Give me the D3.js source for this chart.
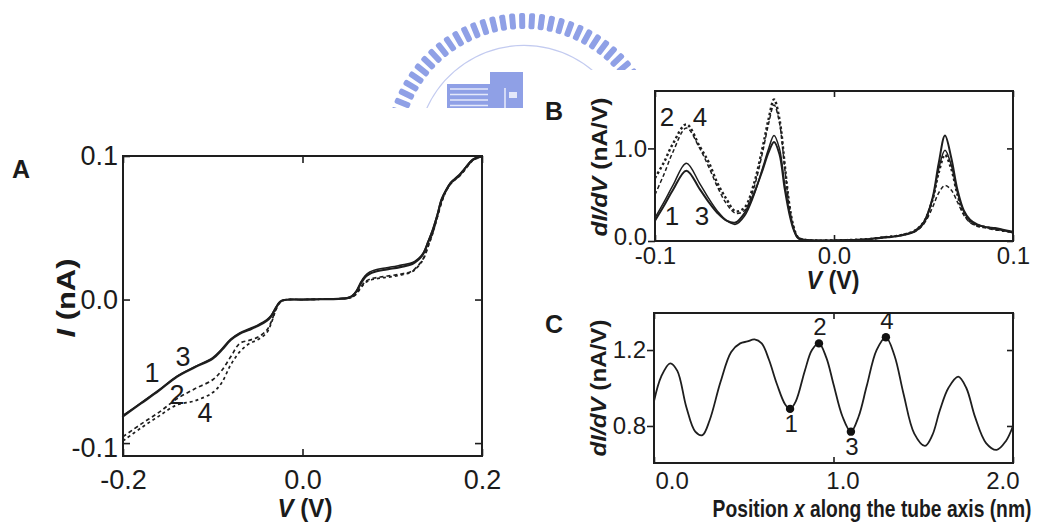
<!DOCTYPE html>
<html>
<head>
<meta charset="utf-8">
<script src="https://cdn.jsdelivr.net/npm/d3@7"></script>
<style>
  html, body { margin: 0; padding: 0; background: #fff; }
  svg { display: block; }
  text { font-family: "Liberation Sans", Arial, sans-serif; fill: #1b1b1b; }
  .bold { font-weight: bold; }
</style>
</head>
<body>
<svg id="fig" width="1046" height="526"></svg>
<script>
// ---------- Panel A: I(V) curves at four tip positions ----------
const ivVoltage = [-0.2,-0.18,-0.16,-0.14,-0.12,-0.1,-0.09,-0.08,-0.07,-0.06,-0.05,-0.04,-0.035,-0.03,-0.025,-0.02,
  0,0.02,0.04,0.05,0.055,0.06,0.065,0.07,0.075,0.08,0.09,0.1,0.11,0.12,0.125,0.13,0.135,0.14,0.145,0.15,0.155,0.16,
  0.165,0.17,0.175,0.18,0.19,0.2];
const ivCurve1 = [-0.0813,-0.0724,-0.0635,-0.0538,-0.0472,-0.0412,-0.0352,-0.0282,-0.0238,-0.0212,-0.0185,-0.0148,-0.0118,-0.0062,-0.0016,-0.0003,
  0,0.0002,0.0005,0.001,0.0022,0.0055,0.0112,0.0158,0.018,0.0192,0.0206,0.0216,0.0228,0.0242,0.0258,0.0282,0.0322,0.040,0.048,0.058,0.0697,0.076,
  0.081,0.0838,0.0865,0.0905,0.0975,0.1];
const ivCurve3 = [-0.0808,-0.0720,-0.0630,-0.0535,-0.0468,-0.0405,-0.0345,-0.0276,-0.0232,-0.0205,-0.0178,-0.0142,-0.0112,-0.0058,-0.0014,-0.0002,
  0,0.0002,0.0006,0.0012,0.0025,0.006,0.0122,0.0168,0.0192,0.0204,0.0218,0.0228,0.024,0.0252,0.0266,0.029,0.033,0.0405,0.0486,0.0588,0.0700,0.0765,
  0.0815,0.0845,0.0872,0.0908,0.0978,0.1];
const ivCurve2 = [-0.0955,-0.0868,-0.0786,-0.0692,-0.0622,-0.0559,-0.0494,-0.0399,-0.0306,-0.0285,-0.0263,-0.0215,-0.0158,-0.0074,-0.0018,-0.0003,
  0,0.0002,0.0005,0.0009,0.0018,0.0042,0.0088,0.0125,0.0142,0.015,0.016,0.0168,0.0178,0.0192,0.0212,0.0245,0.029,0.0375,0.0462,0.0572,0.068,0.0758,
  0.0808,0.0838,0.0864,0.0898,0.0972,0.0995];
const ivCurve4 = [-0.0985,-0.0895,-0.0812,-0.0734,-0.0706,-0.0648,-0.0579,-0.0455,-0.0365,-0.031,-0.028,-0.0232,-0.0168,-0.0078,-0.002,-0.0003,
  0,0.0002,0.0005,0.0008,0.0016,0.0038,0.0082,0.0118,0.0134,0.0142,0.0152,0.016,0.0172,0.0188,0.0206,0.024,0.0285,0.037,0.0458,0.0568,0.0676,0.0755,
  0.0805,0.0835,0.0862,0.0896,0.097,0.0995];
const ivXTicks = [-0.2, 0.0, 0.2];
const ivXTickLabels = ["-0.2", "0.0", "0.2"];
const ivYTicks = [-0.1, 0.0, 0.1];
const ivYTickLabels = ["-0.1", "0.0", "0.1"];
const ivCurveNames = ["1", "3", "2", "4"];

// ---------- Panel B: dI/dV spectra ----------
const bVoltage = [-0.1,-0.095,-0.09,-0.0825,-0.075,-0.07,-0.065,-0.06,-0.055,-0.05,-0.045,-0.04,-0.0365,-0.0335,-0.0305,-0.0275,
  -0.025,-0.0225,-0.02,-0.015,-0.01,0,0.01,0.02,0.03,0.035,0.04,0.045,0.05,0.055,0.0585,0.062,0.0655,0.069,0.0725,0.076,
  0.08,0.085,0.09,0.095,0.1];
const bCurve1 = [0.22,0.38,0.55,0.76,0.56,0.42,0.3,0.22,0.2,0.3,0.5,0.76,0.96,1.07,0.94,0.56,0.3,0.12,0.03,0.01,0.005,
  0.005,0.01,0.02,0.04,0.05,0.07,0.1,0.19,0.46,0.84,1.14,0.9,0.55,0.33,0.23,0.18,0.15,0.14,0.12,0.1];
const bCurve3 = [0.25,0.42,0.6,0.84,0.62,0.46,0.32,0.22,0.18,0.27,0.48,0.78,1.0,1.14,1.0,0.6,0.32,0.13,0.03,0.01,0.005,
  0.006,0.012,0.022,0.045,0.055,0.075,0.11,0.2,0.45,0.78,0.98,0.82,0.52,0.32,0.22,0.17,0.15,0.13,0.11,0.09];
const bCurve2 = [0.68,0.85,1.05,1.26,1.02,0.85,0.62,0.45,0.32,0.36,0.6,1.0,1.32,1.53,1.32,0.82,0.4,0.15,0.04,0.01,0.005,
  0.006,0.012,0.022,0.045,0.055,0.075,0.11,0.2,0.44,0.74,0.93,0.78,0.5,0.3,0.21,0.17,0.15,0.13,0.11,0.1];
const bCurve4 = [0.5,0.72,0.96,1.22,1.0,0.8,0.58,0.4,0.3,0.33,0.56,0.95,1.27,1.47,1.28,0.78,0.38,0.14,0.04,0.01,0.005,
  0.006,0.012,0.022,0.045,0.055,0.075,0.1,0.18,0.36,0.52,0.6,0.55,0.42,0.28,0.2,0.16,0.14,0.12,0.11,0.09];
const bXTicks = [-0.1, 0.0, 0.1];
const bXTickLabels = ["-0.1", "0.0", "0.1"];
const bYTicks = [0.0, 1.0];
const bYTickLabels = ["0.0", "1.0"];

// ---------- Panel C: dI/dV along the tube axis ----------
const cPosition = [0.0,0.04,0.09,0.13,0.18,0.23,0.27,0.31,0.37,0.43,0.48,0.52,0.56,0.60,0.64,0.685,0.73,0.758,0.79,
  0.84,0.88,0.919,0.96,1.0,1.05,1.097,1.14,1.185,1.24,1.292,1.34,1.39,1.45,1.51,1.55,1.593,1.64,1.695,1.74,1.788,
  1.85,1.909,1.96,2.0];
const cConductance = [0.93,1.06,1.13,1.09,0.90,0.77,0.752,0.83,1.03,1.19,1.235,1.245,1.256,1.235,1.15,1.02,0.915,0.89,0.93,
  1.09,1.20,1.235,1.16,1.02,0.85,0.77,0.85,1.01,1.20,1.267,1.17,0.97,0.76,0.695,0.75,0.884,1.00,1.06,1.00,0.849,
  0.71,0.674,0.72,0.80];
const cMarkerPosition = [0.758, 0.919, 1.097, 1.292];
const cMarkerValue = [0.89, 1.235, 0.77, 1.267];
const cMarkerNames = ["1", "2", "3", "4"];
const cXTicks = [0.0, 1.0, 2.0];
const cXTickLabels = ["0.0", "1.0", "2.0"];
const cYTicks = [0.8, 1.2];
const cYTickLabels = ["0.8", "1.2"];

const svg = d3.select("#fig");
svg.append("rect").attr("width", 1046).attr("height", 526).attr("fill", "#fff");

// ---------- institutional emblem in the header ----------
const defs = svg.append("defs");
defs.append("clipPath").attr("id", "emblemClip")
  .append("path").attr("d", "M0,0H1046V70H570V108H0Z");
const emblemColor = "#8fa0e6";
const emblemLight = "#e4e8fa";
const emblem = svg.append("g").attr("clip-path", "url(#emblemClip)");
const ecx = 524, ecy = 152;
for (let a = -200; a <= 22; a += 4.2) {
  emblem.append("rect")
    .attr("transform", `translate(${ecx},${ecy}) rotate(${a})`)
    .attr("x", 123).attr("y", -3).attr("width", 16).attr("height", 6).attr("rx", 2)
    .attr("fill", emblemColor);
}
emblem.append("path")
  .attr("d", d3.arc()({innerRadius: 106, outerRadius: 107.2, startAngle: -1.9, endAngle: 1.9}))
  .attr("transform", `translate(${ecx},${ecy})`)
  .attr("fill", "#c3cbf0");
emblem.append("rect").attr("x", 447).attr("y", 84).attr("width", 43).attr("height", 26).attr("fill", emblemColor);
emblem.append("rect").attr("x", 490).attr("y", 72).attr("width", 33).attr("height", 38).attr("fill", emblemColor);
[89, 94.5, 100, 105.5].forEach(yy => {
  emblem.append("line").attr("x1", 450).attr("x2", 488).attr("y1", yy).attr("y2", yy)
    .attr("stroke", emblemLight).attr("stroke-width", 1.4);
});
emblem.append("line").attr("x1", 505).attr("x2", 505).attr("y1", 88).attr("y2", 110).attr("stroke", emblemLight).attr("stroke-width", 1.6);
emblem.append("rect").attr("x", 509).attr("y", 92).attr("width", 8).attr("height", 6).attr("fill", emblemLight);

// ---------- helpers ----------
const ink = "#1e1e1e";

function styleAxis(g, fontSize) {
  g.select(".domain").remove();
  g.selectAll(".tick line").attr("stroke", ink).attr("stroke-width", 1.6);
  g.selectAll(".tick text").attr("fill", ink).style("font-size", fontSize + "px")
    .attr("font-family", null);
}

function frame(xs, ys) {
  const [x0, x1] = xs.range();
  const [y0, y1] = ys.range();
  svg.append("rect")
    .attr("x", x0).attr("y", y1).attr("width", x1 - x0).attr("height", y0 - y1)
    .attr("fill", "none").attr("stroke", ink).attr("stroke-width", 2);
}

function drawCurve(xs, ys, xv, yv, style) {
  const line = d3.line().curve(d3.curveCatmullRom.alpha(0.5))
    .x((d, i) => xs(xv[i])).y(d => ys(d));
  svg.append("path").datum(yv)
    .attr("d", line)
    .attr("fill", "none")
    .attr("stroke", ink)
    .attr("stroke-width", style.width)
    .attr("stroke-dasharray", style.dash || null)
    .attr("stroke-linejoin", "round")
    .attr("stroke-linecap", style.dash ? "butt" : "round");
}

function label(x, y, txt, size, cls, anchor) {
  return svg.append("text").attr("x", x).attr("y", y)
    .attr("class", cls || null)
    .attr("text-anchor", anchor || "middle")
    .style("font-size", size + "px").text(txt);
}

// Bold axis title, squeezed horizontally to a given run length (condensed face)
function title(tx, ty, angle, parts, size, len) {
  const t = svg.append("text").attr("class", "bold")
    .attr("text-anchor", "middle").style("font-size", size + "px");
  parts.forEach(p => t.append("tspan").attr("font-style", p.italic ? "italic" : null).text(p.t));
  const w = t.node().getComputedTextLength();
  const sx = w > 0 ? len / w : 1;
  t.attr("transform", `translate(${tx},${ty}) rotate(${angle}) scale(${sx},1)`);
  return t;
}

// ---------- Panel A ----------
const xA = d3.scaleLinear().domain([-0.2, 0.2]).range([123, 482]);
const yA = d3.scaleLinear().domain([-0.109, 0.1]).range([456, 156]);

svg.append("g").attr("transform", `translate(0,${yA.range()[0]})`)
  .call(d3.axisBottom(xA).tickValues(ivXTicks).tickSize(-7).tickPadding(14)
    .tickFormat((d, i) => ivXTickLabels[i]))
  .call(g => styleAxis(g, 27));
svg.append("g").attr("transform", `translate(${xA.range()[0]},0)`)
  .call(d3.axisLeft(yA).tickValues(ivYTicks).tickSize(-7).tickPadding(5)
    .tickFormat((d, i) => ivYTickLabels[i]))
  .call(g => styleAxis(g, 27))
  .call(g => g.selectAll(".tick text").attr("dy", (d, i) => i === 0 ? "0.5em" : "0.32em"));
svg.append("g").attr("transform", `translate(${xA.range()[1]},0)`)
  .call(d3.axisRight(yA).tickValues(ivYTicks).tickSize(-7).tickFormat(""))
  .call(g => styleAxis(g, 27));
svg.append("g").attr("transform", `translate(0,${yA.range()[1]})`)
  .call(d3.axisTop(xA).tickValues(ivXTicks).tickSize(-7).tickFormat(""))
  .call(g => styleAxis(g, 27));

drawCurve(xA, yA, ivVoltage, ivCurve4, {width: 1.7, dash: "3,3"});
drawCurve(xA, yA, ivVoltage, ivCurve2, {width: 1.7, dash: "4,3"});
drawCurve(xA, yA, ivVoltage, ivCurve3, {width: 1.6});
drawCurve(xA, yA, ivVoltage, ivCurve1, {width: 2.2});
frame(xA, yA);

label(152, 382, ivCurveNames[0], 27);
label(183, 366, ivCurveNames[1], 27);
label(177, 404, ivCurveNames[2], 27);
label(205, 422, ivCurveNames[3], 27);

title(305, 517, 0, [{t: "V", italic: true}, {t: " (V)"}], 26, 55);
title(75, 298, -90, [{t: "I", italic: true}, {t: " (nA)"}], 26, 79);
label(21, 178, "A", 25, "bold");

// ---------- Panel B ----------
const xB = d3.scaleLinear().domain([-0.1, 0.1]).range([655, 1013]);
const yB = d3.scaleLinear().domain([0, 1.62]).range([241, 91]);

svg.append("g").attr("transform", `translate(0,${yB.range()[0]})`)
  .call(d3.axisBottom(xB).tickValues(bXTicks).tickSize(-6).tickPadding(6)
    .tickFormat((d, i) => bXTickLabels[i]))
  .call(g => styleAxis(g, 24));
svg.append("g").attr("transform", `translate(${xB.range()[0]},0)`)
  .call(d3.axisLeft(yB).tickValues(bYTicks).tickSize(7).tickPadding(1)
    .tickFormat((d, i) => bYTickLabels[i]))
  .call(g => styleAxis(g, 24))
  .call(g => g.selectAll(".tick text").attr("dy", (d, i) => i === 0 ? "0.16em" : "0.32em"));
svg.append("g").attr("transform", `translate(${xB.range()[1]},0)`)
  .call(d3.axisRight(yB).tickValues(bYTicks).tickSize(-6).tickFormat(""))
  .call(g => styleAxis(g, 24));
svg.append("g").attr("transform", `translate(0,${yB.range()[1]})`)
  .call(d3.axisTop(xB).tickValues(bXTicks).tickSize(-6).tickFormat(""))
  .call(g => styleAxis(g, 24));

drawCurve(xB, yB, bVoltage, bCurve4, {width: 1.5, dash: "4,2.5"});
drawCurve(xB, yB, bVoltage, bCurve2, {width: 2.4, dash: "2.5,2.5"});
drawCurve(xB, yB, bVoltage, bCurve3, {width: 1.5});
drawCurve(xB, yB, bVoltage, bCurve1, {width: 2});
frame(xB, yB);

label(667, 126, "2", 26);
label(700, 126, "4", 26);
label(672, 225, "1", 26);
label(702, 225, "3", 26);

title(833, 289, 0, [{t: "V", italic: true}, {t: " (V)"}], 25, 53);
title(607, 167, -90, [{t: "dI/dV", italic: true}, {t: " (nA/V)"}], 22, 139);
label(554, 120, "B", 25, "bold");

// ---------- Panel C ----------
const xC = d3.scaleLinear().domain([0, 2]).range([654, 1013]);
const yC = d3.scaleLinear().domain([0.605, 1.395]).range([463, 313]);

svg.append("g").attr("transform", `translate(0,${yC.range()[0]})`)
  .call(d3.axisBottom(xC).tickValues(cXTicks).tickSize(-6).tickPadding(9)
    .tickFormat((d, i) => cXTickLabels[i]))
  .call(g => styleAxis(g, 24))
  .call(g => g.selectAll(".tick text")
    .attr("text-anchor", (d, i) => i === 0 ? "start" : (i === cXTicks.length - 1 ? "end" : "middle"))
    .attr("dx", (d, i) => i === 0 ? 1 : (i === cXTicks.length - 1 ? 6 : 9)));
svg.append("g").attr("transform", `translate(${xC.range()[0]},0)`)
  .call(d3.axisLeft(yC).tickValues(cYTicks).tickSize(7).tickPadding(1)
    .tickFormat((d, i) => cYTickLabels[i]))
  .call(g => styleAxis(g, 24));
svg.append("g").attr("transform", `translate(${xC.range()[1]},0)`)
  .call(d3.axisRight(yC).tickValues(cYTicks).tickSize(-6).tickFormat(""))
  .call(g => styleAxis(g, 24));
svg.append("g").attr("transform", `translate(0,${yC.range()[1]})`)
  .call(d3.axisTop(xC).tickValues(cXTicks).tickSize(-6).tickFormat(""))
  .call(g => styleAxis(g, 24));

drawCurve(xC, yC, cPosition, cConductance, {width: 1.8});
frame(xC, yC);

svg.append("g").selectAll("circle")
  .data(cMarkerPosition)
  .join("circle")
  .attr("cx", d => xC(d))
  .attr("cy", (d, i) => yC(cMarkerValue[i]))
  .attr("r", 4.2)
  .attr("fill", "#111");
// labels sit below minima and above maxima
svg.append("g").selectAll("text")
  .data(cMarkerNames)
  .join("text")
  .attr("x", (d, i) => xC(cMarkerPosition[i]) + 1)
  .attr("y", (d, i) => yC(cMarkerValue[i]) + (i % 2 === 0 ? 23 : -8))
  .attr("text-anchor", "middle")
  .style("font-size", "24px")
  .text(d => d);

title(872, 517, 0, [{t: "Position "}, {t: "x", italic: true}, {t: " along the tube axis (nm)"}], 23, 319);
title(606, 388, -90, [{t: "dI/dV", italic: true}, {t: " (nA/V)"}], 22, 137);
label(554, 333, "C", 25, "bold");
</script>
</body>
</html>
